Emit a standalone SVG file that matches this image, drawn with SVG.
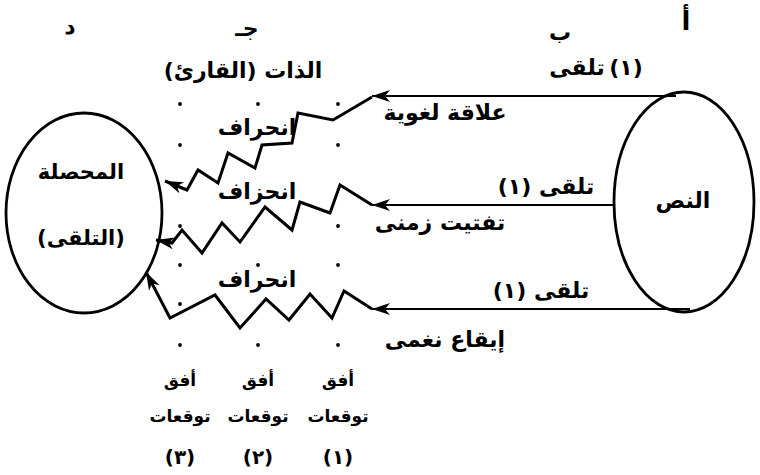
<svg xmlns="http://www.w3.org/2000/svg" width="760" height="475" viewBox="0 0 760 475">
<style>
text{font-family:"DejaVu Sans","Noto Sans",sans-serif;font-weight:bold;fill:#000;text-anchor:middle;direction:rtl}
.lbl{font-size:22px}
.big{font-size:22px}
.node{font-size:21px}
.sm{font-size:17px}
.num{font-size:20px}
.ell{fill:none;stroke:#000;stroke-width:2.8}
.h{fill:none;stroke:#000;stroke-width:2.2}
.z{fill:none;stroke:#000;stroke-width:3;stroke-linejoin:miter}
.dot{fill:#000}
</style>
<defs>
<marker id="arr" markerUnits="userSpaceOnUse" markerWidth="24" markerHeight="16" viewBox="-2 -8 24 16" refX="18" refY="0" orient="auto">
<path d="M0,-6 L18,0 L0,6 L5,0 Z" fill="#000"/>
</marker>
</defs>
<g id="letters">
<text class="big" x="686" y="30" style="font-size:26px">أ</text>
<text class="big" x="560" y="40">ب</text>
<text class="big" x="247" y="36">جـ</text>
<text class="big" x="70" y="34">د</text>
</g>
<g id="node-text">
<ellipse class="ell" cx="684" cy="202" rx="70" ry="110"/>
<text class="big" x="683" y="208">النص</text>
</g>
<g id="node-result">
<ellipse class="ell" cx="84" cy="213" rx="78" ry="100"/>
<text class="node" x="81" y="179">المحصلة</text>
<text class="node" x="81" y="245">(التلقى)</text>
</g>
<g id="node-self">
<text class="lbl" x="243" y="78">الذات (القارئ)</text>
</g>
<g id="dots">
<circle class="dot" cx="180" cy="104" r="1.9"/>
<circle class="dot" cx="258" cy="104" r="1.9"/>
<circle class="dot" cx="338" cy="104" r="1.9"/>
<circle class="dot" cx="180" cy="145" r="1.9"/>
<circle class="dot" cx="338" cy="145" r="1.9"/>
<circle class="dot" cx="180" cy="226" r="1.9"/>
<circle class="dot" cx="338" cy="226" r="1.9"/>
<circle class="dot" cx="180" cy="265" r="1.9"/>
<circle class="dot" cx="258" cy="265" r="1.9"/>
<circle class="dot" cx="338" cy="265" r="1.9"/>
<circle class="dot" cx="180" cy="304" r="1.9"/>
<circle class="dot" cx="180" cy="345" r="1.9"/>
<circle class="dot" cx="258" cy="345" r="1.9"/>
<circle class="dot" cx="338" cy="345" r="1.9"/>
</g>
<g id="connectors">
<line class="h" x1="676" y1="96" x2="372" y2="96" marker-end="url(#arr)"/>
<line class="h" x1="614" y1="205" x2="372" y2="205" marker-end="url(#arr)"/>
<line class="h" x1="690" y1="309" x2="372" y2="309" marker-end="url(#arr)"/>
<polyline class="z" points="372,97 333,120 298,113 292,143 262,145 255,168 228,153 218,183 198,170 187,190 165,181" marker-end="url(#arr)"/>
<polyline class="z" points="372,205 340,185 330,213 300,202 292,230 265,207 240,242 222,223 202,253 182,230 172,243 156,240" marker-end="url(#arr)"/>
<polyline class="z" points="372,309 344,291 332,318 310,294 289,320 266,299 240,328 215,295 170,318 146,272" marker-end="url(#arr)"/>
</g>
<g id="labels">
<text class="lbl" x="577" y="75">تلقى</text>
<text class="lbl" x="626" y="75">(١)</text>
<text class="lbl" x="546" y="194">تلقى (١)</text>
<text class="lbl" x="440" y="230">تفتيت زمنى</text>
<text class="lbl" x="541" y="298">تلقى (١)</text>
<text class="lbl" x="445" y="120">علاقة لغوية</text>
<text class="lbl" x="445" y="347">إيقاع نغمى</text>
<text class="lbl" x="257" y="135">انحراف</text>
<text class="lbl" x="257" y="199">انحزاف</text>
<text class="lbl" x="257" y="287">انحراف</text>
</g>
<g id="horizons">
<text class="sm" x="180" y="386">أفق</text>
<text class="sm" x="258" y="386">أفق</text>
<text class="sm" x="338" y="386">أفق</text>
<text class="sm" x="180" y="422">توقعات</text>
<text class="sm" x="258" y="422">توقعات</text>
<text class="sm" x="338" y="422">توقعات</text>
<text class="num" x="180" y="464">(٣)</text>
<text class="num" x="258" y="464">(٢)</text>
<text class="num" x="338" y="464">(١)</text>
</g>
</svg>
